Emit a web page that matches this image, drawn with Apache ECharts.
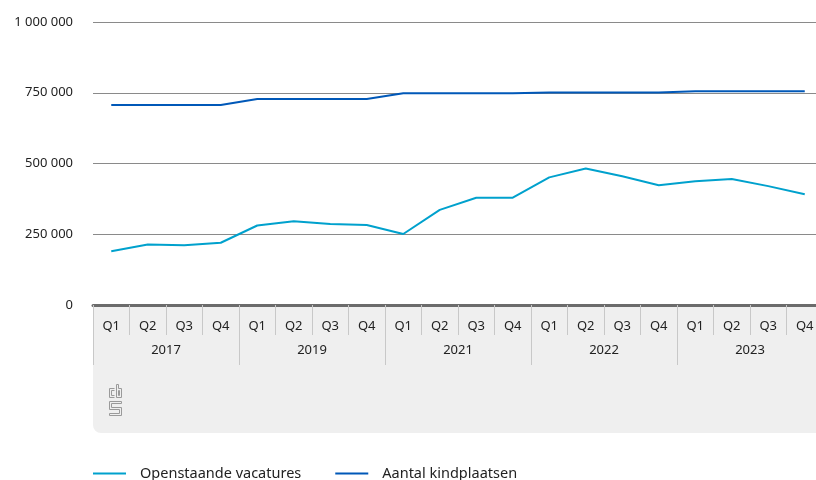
<!DOCTYPE html>
<html>
<head>
<meta charset="utf-8">
<script src="https://cdn.jsdelivr.net/npm/echarts@6/dist/echarts.min.js"></script>
<style>
  html, body { margin: 0; padding: 0; background: #fff; overflow: hidden; }
  /* chart is a bit wider than the window: the plot runs past the right edge */
  #chart { width: 830px; height: 480px; }
</style>
</head>
<body>
<div id="chart"></div>
<script>
// quarters (bottom level) and years (second level)
const quarters = [
  'Q1', 'Q2', 'Q3', 'Q4', 'Q1', 'Q2', 'Q3', 'Q4', 'Q1', 'Q2',
  'Q3', 'Q4', 'Q1', 'Q2', 'Q3', 'Q4', 'Q1', 'Q2', 'Q3', 'Q4'
]
const years = ['2017', '2019', '2021', '2022', '2023']

const vacatures = [
  190000, 214000, 211000, 220000,
  281000, 296000, 286000, 283000,
  251000, 336000, 379000, 379000,
  451000, 482000, 455000, 423000,
  437000, 445000, 420000, 391000
]
const kindplaatsen = [
  707000, 707000, 707000, 707000,
  728000, 728000, 728000, 728000,
  748000, 748000, 748000, 748000,
  751000, 751000, 751000, 751000,
  755000, 755000, 755000, 755000
]

const fmt = v => String(v).replace(/\B(?=(\d{3})+(?!\d))/g, ' ')

const chart = echarts.init(document.getElementById('chart'))

// cbs logo outline, relative to its top-left corner
const logoX = 109
const logoY = 384
const logoShapes = [
  // c
  { pts: [[5.5, 4.5], [0.5, 4.5], [0.5, 13.5], [5.5, 13.5]], closed: false },
  { pts: [[5.5, 6.5], [2.5, 6.5], [2.5, 11.5], [5.5, 11.5]], closed: false },
  // b
  { pts: [[7.5, 0.5], [9.5, 0.5], [9.5, 4.5], [12.5, 4.5], [12.5, 13.5], [7.5, 13.5]], closed: true },
  { pts: [[9.5, 6.5], [10.5, 6.5], [10.5, 11.5], [9.5, 11.5]], closed: true },
  // s
  { pts: [[0.5, 17.5], [12.5, 17.5], [12.5, 19.5], [2.5, 19.5], [2.5, 23.5], [12.5, 23.5],
          [12.5, 31.5], [0.5, 31.5], [0.5, 29.5], [10.5, 29.5], [10.5, 25.5], [0.5, 25.5]], closed: true }
]

const option = {
  animation: false,
  textStyle: { fontFamily: 'Noto Sans' },
  grid: { left: 93, top: 22, width: 730, height: 283, containLabel: false },
  graphic: [
    {
      type: 'rect',
      z: -10,
      shape: { x: 93, y: 306, width: 740, height: 127, r: [0, 0, 0, 8] },
      style: { fill: '#efefef' }
    },
    ...logoShapes.map(s => ({
      type: s.closed ? 'polygon' : 'polyline',
      z: 5,
      shape: { points: s.pts.map(p => [logoX + p[0], logoY + p[1]]) },
      style: { stroke: '#9a9a9a', lineWidth: 1, fill: null }
    }))
  ],
  legend: {
    left: 93,
    top: 466,
    padding: 0,
    icon: 'rect',
    itemWidth: 33,
    itemHeight: 2,
    itemGap: 34,
    textStyle: { color: '#222', fontSize: 14.5, padding: [0, 0, 0, 9] },
    data: ['Openstaande vacatures', 'Aantal kindplaatsen']
  },
  xAxis: [
    {
      type: 'category',
      data: quarters,
      position: 'bottom',
      boundaryGap: true,
      axisLine: { show: true, lineStyle: { color: '#6b6b6b', width: 3 } },
      axisTick: { show: true, interval: 0, length: 30, lineStyle: { color: '#c8c8c8', width: 1 } },
      axisLabel: { interval: 0, color: '#222', fontSize: 13, margin: 15 },
      splitLine: { show: false }
    },
    {
      type: 'category',
      data: years,
      position: 'bottom',
      offset: 30,
      boundaryGap: true,
      axisLine: { show: false },
      axisTick: { show: true, interval: 0, length: 30, lineStyle: { color: '#c8c8c8', width: 1 } },
      axisLabel: { interval: 0, color: '#222', fontSize: 13, margin: 9 },
      splitLine: { show: false }
    }
  ],
  yAxis: {
    type: 'value',
    min: 0,
    max: 1000000,
    interval: 250000,
    axisLine: { show: false },
    axisTick: { show: false },
    axisLabel: { color: '#222', fontSize: 13, margin: 20, formatter: fmt },
    splitLine: { lineStyle: { color: '#8a8a8a', width: 1 } }
  },
  series: [
    {
      name: 'Openstaande vacatures',
      type: 'line',
      data: vacatures,
      color: '#00a1cd',
      symbol: 'none',
      lineStyle: { width: 2 }
    },
    {
      name: 'Aantal kindplaatsen',
      type: 'line',
      data: kindplaatsen,
      color: '#0058b8',
      symbol: 'none',
      lineStyle: { width: 2 }
    }
  ]
}

chart.setOption(option)
</script>
</body>
</html>
